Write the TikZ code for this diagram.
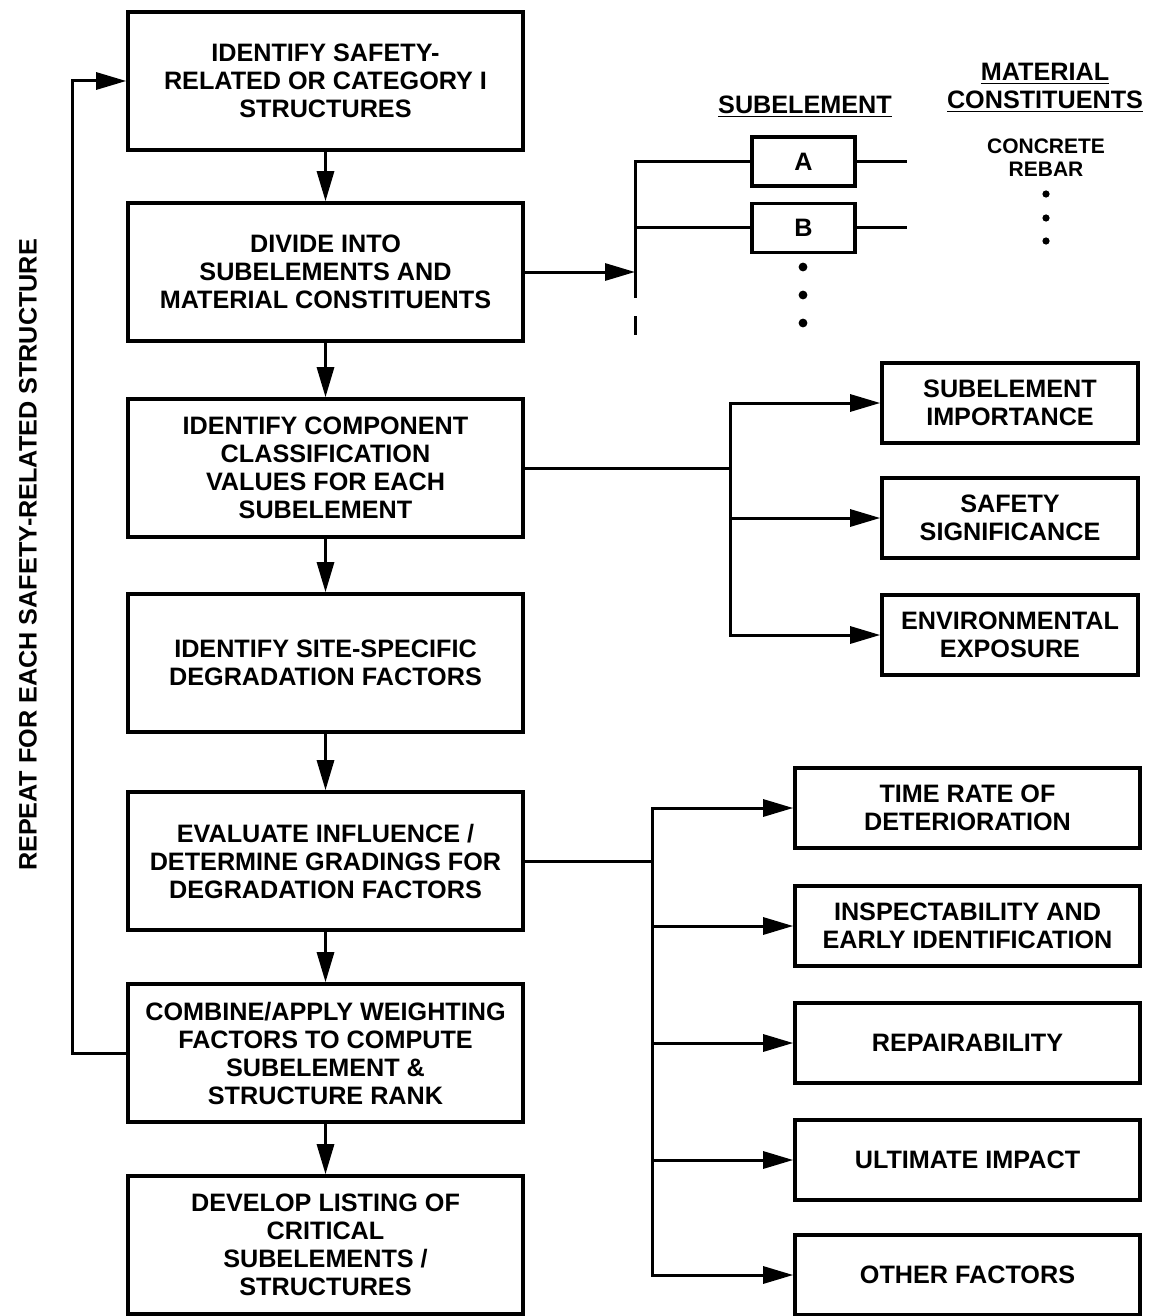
\documentclass[tikz,border=0pt]{standalone}
\usepackage{fontspec}
\setmainfont{Liberation Sans}
\usetikzlibrary{arrows.meta}

\begin{document}
\begin{tikzpicture}[x=0.5pt,y=-0.5pt,
  txt/.style={font=\fontsize{12.6}{14}\selectfont\bfseries,align=center,inner sep=0pt},
  stepbox/.style={txt,draw,line width=1.8pt,minimum width=197.5pt,minimum height=69pt},
  sidebox/.style={txt,draw,line width=1.8pt,minimum height=40pt},
  link/.style={line width=1.5pt},
  arr/.style={link,-{Triangle[length=15pt,width=8.5pt]}}]
  \useasboundingbox (0,0) rectangle (1149,1316);
  % main column
  \node[stepbox] (s1) at (325.5,81) {IDENTIFY SAFETY-\\RELATED OR CATEGORY I\\STRUCTURES};
  \node[stepbox] (s2) at (325.5,272) {DIVIDE INTO\\SUBELEMENTS AND\\MATERIAL CONSTITUENTS};
  \node[stepbox] (s3) at (325.5,468) {IDENTIFY COMPONENT\\CLASSIFICATION\\VALUES FOR EACH\\SUBELEMENT};
  \node[stepbox] (s4) at (325.5,663) {IDENTIFY SITE-SPECIFIC\\DEGRADATION FACTORS};
  \node[stepbox] (s5) at (325.5,861) {EVALUATE INFLUENCE /\\DETERMINE GRADINGS FOR\\DEGRADATION FACTORS};
  \node[stepbox] (s6) at (325.5,1053) {COMBINE/APPLY WEIGHTING\\FACTORS TO COMPUTE\\SUBELEMENT \&\\STRUCTURE RANK};
  \node[stepbox] (s7) at (325.5,1245) {DEVELOP LISTING OF\\CRITICAL\\SUBELEMENTS /\\STRUCTURES};
  \draw[arr] (s1) -- (s2);
  \draw[arr] (s2) -- (s3);
  \draw[arr] (s3) -- (s4);
  \draw[arr] (s4) -- (s5);
  \draw[arr] (s5) -- (s6);
  \draw[arr] (s6) -- (s7);
  % repeat loop
  \coordinate (loop) at (72,1053);
  \draw[arr] (s6.west) -- (loop) |- (s1.west);
  \node[txt,rotate=90] (repeat) at (28,555) {REPEAT FOR EACH SAFETY-RELATED STRUCTURE};
  % subelements
  \node[txt] (hsub) at (805,107) {\underline{SUBELEMENT}};
  \node[txt] (hmat) at (1045,88) {\underline{MATERIAL}\\\underline{CONSTITUENTS}};
  \node[txt,draw,line width=1.8pt,minimum width=51.5pt,minimum height=24.5pt] (subA) at (803.5,161.5) {A};
  \node[txt,draw,line width=1.8pt,minimum width=51.5pt,minimum height=24.5pt] (subB) at (803.5,228) {B};
  \node[txt,font=\fontsize{10.5}{11.5}\selectfont\bfseries] (mat) at (1046,158) {CONCRETE\\REBAR};
  \coordinate (fork) at (635,272);
  \coordinate (forkend) at (635,298);
  \draw[arr] (s2.east) -- (fork);
  \draw[link] (subA.west) -| (forkend);
  \draw[link] (subB.west) -- (subB.west -| fork);
  \draw[link] (635,316) -- (635,335);
  \draw[link] (subA.east) -- +(50,0);
  \draw[link] (subB.east) -- +(50,0);
  \foreach \y in {267,295,323} \fill (803,\y) circle (2.2pt);
  \foreach \y in {194,218,241} \fill (1046,\y) circle (1.8pt);
  % classification values
  \node[sidebox,minimum width=128pt] (imp) at (1010,403) {SUBELEMENT\\IMPORTANCE};
  \node[sidebox,minimum width=128pt] (sig) at (1010,518) {SAFETY\\SIGNIFICANCE};
  \node[sidebox,minimum width=128pt] (env) at (1010,635) {ENVIRONMENTAL\\EXPOSURE};
  \coordinate (j1) at (730,468);
  \draw[link] (s3.east) -- (j1);
  \draw[arr] (j1) |- (imp);
  \draw[arr] (j1) |- (sig);
  \draw[arr] (j1) |- (env);
  % degradation factors
  \node[sidebox,minimum width=172.5pt] (f1) at (967.5,808) {TIME RATE OF\\DETERIORATION};
  \node[sidebox,minimum width=172.5pt] (f2) at (967.5,926) {INSPECTABILITY AND\\EARLY IDENTIFICATION};
  \node[sidebox,minimum width=172.5pt] (f3) at (967.5,1043) {REPAIRABILITY};
  \node[sidebox,minimum width=172.5pt] (f4) at (967.5,1160) {ULTIMATE IMPACT};
  \node[sidebox,minimum width=172.5pt] (f5) at (967.5,1275) {OTHER FACTORS};
  \coordinate (j2) at (652,861);
  \draw[link] (s5.east) -- (j2);
  \foreach \f in {f1,f2,f3,f4,f5} \draw[arr] (j2) |- (\f);
\end{tikzpicture}
\end{document}
